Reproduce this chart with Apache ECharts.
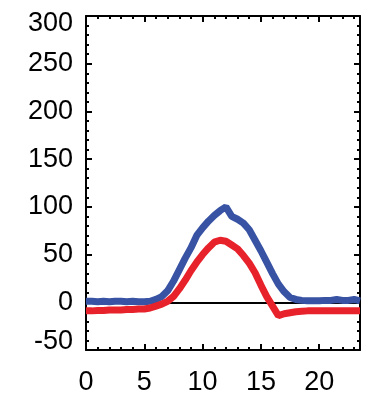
<!DOCTYPE html>
<html>
<head>
<meta charset="utf-8">
<script src="https://cdn.jsdelivr.net/npm/echarts@6/dist/echarts.min.js"></script>
<style>html,body{margin:0;padding:0;background:#fff}#c{width:371px;height:398px}</style>
</head>
<body>
<div id="c"></div>
<script>
const hours = [0,0.5,1,1.5,2,2.5,3,3.5,4,4.5,5,5.5,6,6.5,7,7.5,8,8.5,9,9.5,10,10.5,11,11.5,12,12.5,13,13.5,14,14.5,15,15.5,16,16.5,17,17.5,18,18.5,19,19.5,20,20.5,21,21.5,22,22.5,23,23.5];
const blueValues = [1,1,0.5,1,0.5,1,1,0.5,1,0.5,0.5,1,3,6,12,22,34,46,57,70,78,85,91,96,100,90,87,83,76,65,54,42,30,19,11,5,3,2,1.5,1.5,1.5,2,2,3,2,2,3,1.5];
const redValues = [-9,-9,-8.5,-8.5,-8,-8,-8,-7.5,-7.5,-7,-7,-6,-4,-2,1,6,14,23,33,42,50,57,63,65,64,60,56,49,41,31,18,6,-4,-14,-12,-11,-10,-9.5,-9,-9,-9,-9,-9,-9,-9,-9,-9,-9];
const yTicks = [-50,0,50,100,150,200,250,300];
const xTicks = [0,5,10,15,20];

const pair = (xs, ys) => xs.map((x, i) => [x, ys[i]]);
const FONT = 'Liberation Sans';
const FS = 27;

const xBase = {
  type: 'value', min: 0, max: 23.5, interval: 5,
  axisLine: {show: true, onZero: false, lineStyle: {color: '#000', width: 2}},
  axisTick: {show: true, inside: true, length: 6, lineStyle: {color: '#000', width: 2}},
  minorTick: {show: true, splitNumber: 5, length: 3, lineStyle: {color: '#000', width: 2}},
  splitLine: {show: false}
};
const yBase = {
  type: 'value', min: -50, max: 300, interval: 50,
  axisLine: {show: true, onZero: false, lineStyle: {color: '#000', width: 2}},
  axisTick: {show: true, inside: true, length: 6, lineStyle: {color: '#000', width: 2}},
  minorTick: {show: true, splitNumber: 5, length: 3, lineStyle: {color: '#000', width: 2}},
  splitLine: {show: false}
};

const chart = echarts.init(document.getElementById('c'), null, {renderer: 'canvas'});
chart.setOption({
  animation: false,
  backgroundColor: '#fff',
  grid: {left: 86, right: 11, top: 16, bottom: 48},
  xAxis: [
    Object.assign({}, xBase, {position: 'bottom',
      axisLabel: {show: true, margin: 19, color: '#000', fontFamily: FONT, fontSize: FS,
        formatter: v => xTicks.includes(v) ? String(v) : ''}}),
    Object.assign({}, xBase, {position: 'top', axisLabel: {show: false}})
  ],
  yAxis: [
    Object.assign({}, yBase, {position: 'left',
      axisLabel: {show: true, margin: 13, color: '#000', fontFamily: FONT, fontSize: FS,
        formatter: v => {
          if (!yTicks.includes(v)) return '';
          if (v === 300) return '{dn|' + v + '}';
          if (v === -50) return '{up|' + v + '}';
          return String(v);
        },
        rich: {
          dn: {fontFamily: FONT, fontSize: FS, color: '#000', padding: [16, 0, 0, 0]},
          up: {fontFamily: FONT, fontSize: FS, color: '#000', padding: [0, 0, 16, 0]}
        }}}),
    Object.assign({}, yBase, {position: 'right', axisLabel: {show: false}})
  ],
  series: [
    {
      type: 'line', data: [], z: 1, silent: true,
      markLine: {silent: true, symbol: 'none', z: 1, label: {show: false},
        lineStyle: {color: '#000', width: 2, type: 'solid'},
        data: [{yAxis: 0}]}
    },
    {
      name: 'blue', type: 'line', data: pair(hours, blueValues), showSymbol: false, z: 3,
      lineStyle: {color: '#3953a4', width: 7}, itemStyle: {color: '#3953a4'}
    },
    {
      name: 'red', type: 'line', data: pair(hours, redValues), showSymbol: false, z: 4,
      lineStyle: {color: '#e8222b', width: 7}, itemStyle: {color: '#e8222b'}
    }
  ]
});
</script>
</body>
</html>
